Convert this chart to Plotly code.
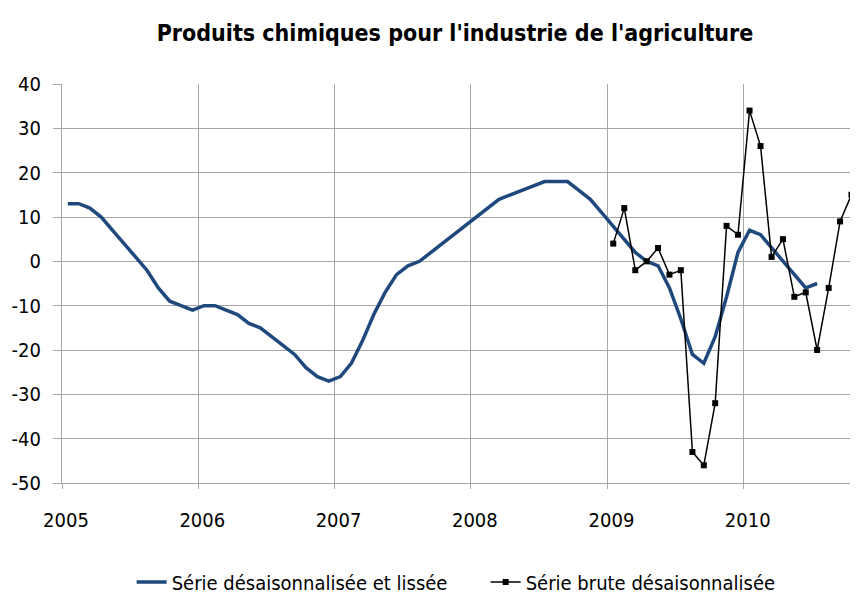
import pandas as pd
import plotly.graph_objects as go

# ---- data ----
smooth_start = "2005-01"
smoothed = [13, 13, 12, 10, 7, 4, 1, -2, -6, -9, -10, -11,
            -10, -10, -11, -12, -14, -15, -17, -19, -21, -24, -26, -27,
            -26, -23, -18, -12, -7, -3, -1, 0, 2, 4, 6, 8,
            10, 12, 14, 15, 16, 17, 18, 18, 18, 16, 14, 11,
            8, 5, 2, 0, -1, -6, -13, -21, -23, -17, -8, 2,
            7, 6, 3, 0, -3, -6, -5]
raw_start = "2009-01"
raw = [4, 12, -2, 0, 3, -3, -2, -43, -46, -32, 8, 6,
       34, 26, 1, 5, -8, -7, -20, -6, 9, 15, 9]
year_ticks = ["2005", "2006", "2007", "2008", "2009", "2010"]
y_ticks = [40, 30, 20, 10, 0, -10, -20, -30, -40, -50]
y_tick_text = ["40", "30", "20", "10", "0", "-10", "-20", "-30", "-40", "-50"]

title = "Produits chimiques pour l'industrie de l'agriculture"
name_smooth = "Série désaisonnalisée et lissée"
name_raw = "Série brute désaisonnalisée"

months_s = pd.date_range(smooth_start, periods=len(smoothed), freq="MS")
months_r = pd.date_range(raw_start, periods=len(raw), freq="MS")
year_dates = [f"{y}-01-01" for y in year_ticks]
x_range = ["2005-01-01", "2010-11-03"]
y_range = [-50, 40]

FONT = "DejaVu Sans Condensed, Liberation Sans Narrow, sans-serif"
GRID = "#a6a6a6"

fig = go.Figure()
fig.add_trace(go.Scatter(
    x=months_s, y=smoothed, name=name_smooth, mode="lines",
    xperiod="M1", xperiodalignment="middle",
    line=dict(color="#1f497d", width=3.5),
))
fig.add_trace(go.Scatter(
    x=months_r, y=raw, name=name_raw, mode="lines+markers",
    xperiod="M1", xperiodalignment="middle",
    line=dict(color="black", width=1.5),
    marker=dict(symbol="square", size=6, color="black"),
))

fig.update_layout(
    width=858, height=597,
    paper_bgcolor="white", plot_bgcolor="white",
    margin=dict(l=54, r=8, t=76, b=122, autoexpand=False),
    font=dict(family=FONT, size=20, color="black"),
    title=dict(text="<b>" + title + "</b>", x=0.521, xref="container", xanchor="center",
               y=0.958, yref="container", yanchor="middle",
               font=dict(family=FONT, size=23, color="black")),
    showlegend=True,
    legend=dict(orientation="h", x=0.0875, xanchor="left", y=-0.248, yanchor="middle",
                font=dict(family=FONT, size=20, color="black"),
                itemwidth=30, tracegroupgap=0, entrywidth=309),
    xaxis=dict(
        type="date", range=x_range, automargin=False,
        tickvals=year_dates, ticktext=year_ticks,
        showgrid=True, gridcolor=GRID, gridwidth=1,
        showline=True, linecolor=GRID, linewidth=1,
        ticks="outside", ticklen=5, tickcolor=GRID,
        ticklabelshift=4, ticklabelstandoff=14,
        zeroline=False,
        tickfont=dict(family=FONT, size=20, color="black"),
    ),
    xaxis2=dict(
        type="date", range=x_range, overlaying="x", anchor="free",
        position=(0 - y_range[0]) / (y_range[1] - y_range[0]),
        tickvals=year_dates, showticklabels=False, automargin=False,
        showgrid=False, showline=False, zeroline=False,
        ticks="outside", ticklen=7, tickcolor=GRID,
    ),
    yaxis=dict(
        range=y_range, automargin=False,
        tickvals=y_ticks, ticktext=y_tick_text,
        showgrid=True, gridcolor=GRID, gridwidth=1,
        showline=True, linecolor=GRID, linewidth=1,
        ticks="outside", ticklen=8, tickcolor=GRID,
        ticklabelstandoff=8,
        zeroline=False,
        tickfont=dict(family=FONT, size=20, color="black"),
    ),
)

fig.write_html("out.html")
